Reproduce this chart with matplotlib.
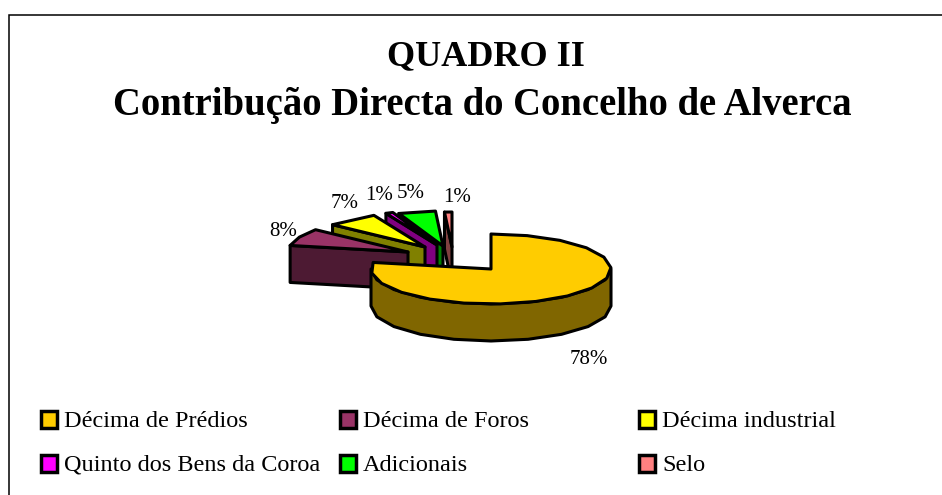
import numpy as np
import matplotlib
matplotlib.use('Agg')
import matplotlib.pyplot as plt
from matplotlib.patches import Polygon, Rectangle

plt.rcParams['font.family'] = ['Liberation Serif', 'DejaVu Serif']

labels = ['Décima de Prédios', 'Décima de Foros', 'Décima industrial',
          'Quinto dos Bens da Coroa', 'Adicionais', 'Selo']
values = [78, 8, 7, 1, 5, 1]
colors = ['#FFCC00', '#993366', '#FFFF00', '#FF00FF', '#00FF00', '#FF8080']
sides = ['#806600', '#4D1A33', '#808000', '#800080', '#008000', '#804040']

# pie geometry, in pixels of the picture
cx, cy = 491, 269
rx, ry = 120, 35
depth = 37
# how far each slice is pulled out of the pie
explode_x = [0, -83, -66, -54, -48, -39]
explode_y = [0, -17, -22, -24, -23, -22]
# where the percent labels sit
pct_x = [589, 283, 345, 379, 411, 457]
pct_y = [359, 231, 203, 195, 193, 197]

fig = plt.figure(figsize=(9.42, 4.95), dpi=100)
ax = fig.add_axes([0, 0, 1, 1])
ax.set_xlim(0, 942)
ax.set_ylim(495, 0)
ax.axis('off')

ax.add_patch(Rectangle((9, 14.5), 960, 520, fc='white', ec='black', lw=1.1))


def rim(a0, a1, x0, y0):
    # outline of the rim, coarse like the original, angles clockwise from the top
    n = max(int(round((a1 - a0) / 18)), 1)
    t = np.radians(np.linspace(a0, a1, n + 1))
    return x0 + rx * np.sin(t), y0 - ry * np.cos(t)


fractions = np.array(values) / sum(values) * 360
starts = np.concatenate([[0], np.cumsum(fractions)[:-1]])
edge = dict(ec='black', lw=2.2, joinstyle='round')

# back slices first, main slice on top of them
for i in [5, 4, 3, 2, 1, 0]:
    a0, a1 = starts[i], starts[i] + fractions[i]
    x0, y0 = cx + explode_x[i], cy + explode_y[i]
    xs, ys = rim(a0, a1, x0, y0)

    if i == 0:
        # outer wall seen from the front
        wx, wy = rim(90, 270, x0, y0)
        wall = np.r_[np.c_[wx, wy], np.c_[wx[::-1], wy[::-1] + depth]]
        ax.add_patch(Polygon(wall, fc=sides[i], zorder=8 - i, **edge))
    else:
        # cut face of the slice
        face = [(x0, y0), (xs[0], ys[0]), (xs[0], ys[0] + depth), (x0, y0 + depth)]
        ax.add_patch(Polygon(face, fc=sides[i], zorder=8 - i, **edge))

    top = np.r_[[[x0, y0]], np.c_[xs, ys]]
    ax.add_patch(Polygon(top, fc=colors[i], zorder=8 - i, **edge))

    ax.text(pct_x[i], pct_y[i], '%d%%' % values[i], fontsize=15, ha='center', va='center', zorder=20)

ax.text(486, 57, 'QUADRO II', fontsize=26, fontweight='bold', ha='center', va='center')
ax.text(482, 105, 'Contribução Directa do Concelho de Alverca', fontsize=27.8, fontweight='bold', ha='center', va='center')

# legend
leg_x = [40, 339, 638, 40, 339, 638]
leg_y = [419.5, 419.5, 419.5, 463.5, 463.5, 463.5]
for i in range(6):
    ax.add_patch(Rectangle((leg_x[i] + 1, leg_y[i] - 8.75), 16, 17.5, fc=colors[i], ec='black', lw=2.5))
    ax.text(leg_x[i] + 24, leg_y[i] + 2, labels[i], fontsize=17.5, ha='left', va='center')

fig.savefig('out.png', dpi=100)
